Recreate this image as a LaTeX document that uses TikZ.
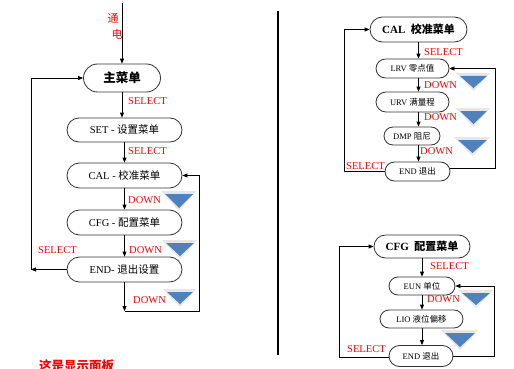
\documentclass[tikz,border=0pt]{standalone}
\usepackage{fontspec}
\setmainfont{Liberation Serif}
\newfontfamily\cjk{Noto Sans CJK SC}
\usetikzlibrary{arrows.meta,shapes.misc}
\definecolor{triblue}{HTML}{4F81BD}
\definecolor{trihalo}{HTML}{E6E6E6}
\newcommand\downtri[5]{% left x, right x, top y, tip y, name
  \fill[trihalo] (#1-4,#3-3) -- (#2+3,#3-3) -- ({(#1+#2)/2},#4+3) -- cycle;
  \fill[triblue] (#1,#3) coordinate (#5) -- (#2,#3) -- ({(#1+#2)/2},#4) -- cycle;}
\tikzset{
  menubox/.style={rounded rectangle, draw=black!80, line width=0.8pt, fill=white,
    inner sep=0pt, minimum width=#1},
  arr/.style={-{Triangle[length=5pt,width=4pt]}, line width=0.8pt},
  ln/.style={line width=0.8pt},
  lab/.style={text=red, font=\fontsize{10.5}{11}\selectfont, inner sep=0pt, anchor=west},
  small/.style={font=\fontsize{8.5}{9}\selectfont},
  mid/.style={font=\fontsize{10.5}{11}\selectfont},
}
\begin{document}
\begin{tikzpicture}[x=1pt,y=-1pt]
\useasboundingbox (0,0) rectangle (514,369);
\fill[white] (0,0) rectangle (514,369);

% ---------------- left chart ----------------
\node[menubox=77pt, minimum height=28pt, font=\fontsize{12.5}{13}\selectfont\bfseries] (main) at (122,78) {\cjk 主菜单};
\node[menubox=115pt, minimum height=24pt, mid] (set) at (124.5,130) {SET - {\cjk 设置菜单}};
\node[menubox=115pt, minimum height=25pt, mid] (cal) at (124.5,175.5) {CAL - {\cjk 校准菜单}};
\node[menubox=115pt, minimum height=25pt, mid] (cfg) at (124.5,222.5) {CFG - {\cjk 配置菜单}};
\node[menubox=115pt, minimum height=25pt, mid] (endl) at (124.5,269.5) {END- {\cjk 退出设置}};

\coordinate (pwr) at (122,3);
\draw[arr] (pwr) -- (main.north);
\node[text=red, font=\cjk\fontsize{11}{12}\selectfont, inner sep=0pt] (tong) at (113,18) {通};
\node[text=red, font=\cjk\fontsize{11}{12}\selectfont, inner sep=0pt] (dian) at (117,34) {电};

\draw[arr] (main.south) -- (main.south |- set.north);
\draw[arr] (set.south) -- (cal.north);
\draw[arr] (cal.south) -- (cfg.north);
\draw[arr] (cfg.south) -- (endl.north);

\coordinate (cL1) at (31,269.5);
\draw[arr] (endl.west) -- (cL1);
\draw[arr] (cL1) |- (main.west);

\coordinate (cR0) at (124.5,311);
\coordinate (cR2) at (199,311);
\draw[arr] (endl.south) -- (cR0);
\draw[arr] (cR0) -- (cR2) |- (cal.east);

\node[lab] (s1) at (128,101) {SELECT};
\node[lab] (s2) at (128,151) {SELECT};
\node[lab] (d1) at (128,200) {DOWN};
\node[lab] (d2) at (129,250) {DOWN};
\node[lab] (s3) at (38,250) {SELECT};
\node[lab] (d3) at (133,300) {DOWN};

\downtri{165}{193}{194}{208}{t1}
\downtri{166}{194}{243}{256}{t2}
\downtri{167}{193}{292}{304}{t3}

% separator
\draw[line width=1.1pt] (278,11) coordinate (sepA) -- (278,355) coordinate (sepB);

% ---------------- CAL chart ----------------
\node[menubox=97pt, minimum height=25pt, font=\fontsize{11}{12}\selectfont\bfseries] (cal2) at (418.5,29.5) {CAL\ \ {\cjk 校准菜单}};
\node[menubox=73pt, minimum height=19pt, small] (lrv) at (412.5,68.5) {LRV {\cjk 零点值}};
\node[menubox=73pt, minimum height=20pt, small] (urv) at (412.5,102) {URV {\cjk 满量程}};
\node[menubox=56pt, minimum height=18pt, small] (dmp) at (412,136) {DMP {\cjk 阻尼}};
\node[menubox=65pt, minimum height=19pt, small] (end2) at (417.5,171.5) {END {\cjk 退出}};

\draw[arr] (cal2.south) -- (cal2.south |- lrv.north);
\draw[arr] (cal2.south |- lrv.south) -- (cal2.south |- urv.north);
\draw[arr] (cal2.south |- urv.south) -- (cal2.south |- dmp.north);
\draw[arr] (cal2.south |- dmp.south) -- (cal2.south |- end2.north);

\coordinate (l2a) at (344,171.5);
\draw[ln] (end2.west) -- (l2a);
\draw[arr] (l2a) |- (cal2.west);
\coordinate (r2a) at (495,168);
\draw[arr] (end2.east |- r2a) -- (r2a) |- (lrv.east);

\node[lab] (s4) at (424,52) {SELECT};
\node[lab] (d4) at (424,85) {DOWN};
\node[lab] (d5) at (424,117) {DOWN};
\node[lab] (d6) at (420,151) {DOWN};
\node[lab] (s5) at (346,166) {SELECT};

\downtri{460}{487}{76}{88}{t4}
\downtri{460}{487}{111}{124}{t5}
\downtri{458}{487}{140}{153}{t6}

% ---------------- CFG chart ----------------
\node[menubox=96pt, minimum height=23pt, font=\fontsize{11}{12}\selectfont\bfseries] (cfg2) at (422,246.5) {CFG\ \ {\cjk 配置菜单}};
\node[menubox=66pt, minimum height=18pt, small] (eun) at (422,286) {EUN {\cjk 单位}};
\node[menubox=83pt, minimum height=18pt, small] (lio) at (421.5,319) {LIO {\cjk 液位偏移}};
\node[menubox=64pt, minimum height=21pt, small] (end3) at (421,356) {END {\cjk 退出}};

\draw[arr] (cfg2.south) -- (cfg2.south |- eun.north);
\draw[arr] (cfg2.south |- eun.south) -- (cfg2.south |- lio.north);
\draw[arr] (cfg2.south |- lio.south) -- (cfg2.south |- end3.north);

\coordinate (l3) at (339,357);
\draw[ln] (end3.west |- l3) -- (l3);
\draw[arr] (l3) |- (cfg2.west);
\coordinate (r3) at (494,356);
\draw[arr] (end3.east) -- (r3) |- (eun.east);

\node[lab] (s6) at (430,266) {SELECT};
\node[lab] (d7) at (427,299) {DOWN};
\node[lab] (s7) at (347,349) {SELECT};

\downtri{462}{490}{293}{305}{t7}
\downtri{445}{475}{333}{347}{t8}

% caption, cut by the lower edge as in the reference
\node[text=red, font=\cjk\fontsize{12.5}{13}\selectfont\bfseries, anchor=north west, inner sep=0pt] (cap) at (39,359) {这是显示面板};
\end{tikzpicture}
\end{document}
